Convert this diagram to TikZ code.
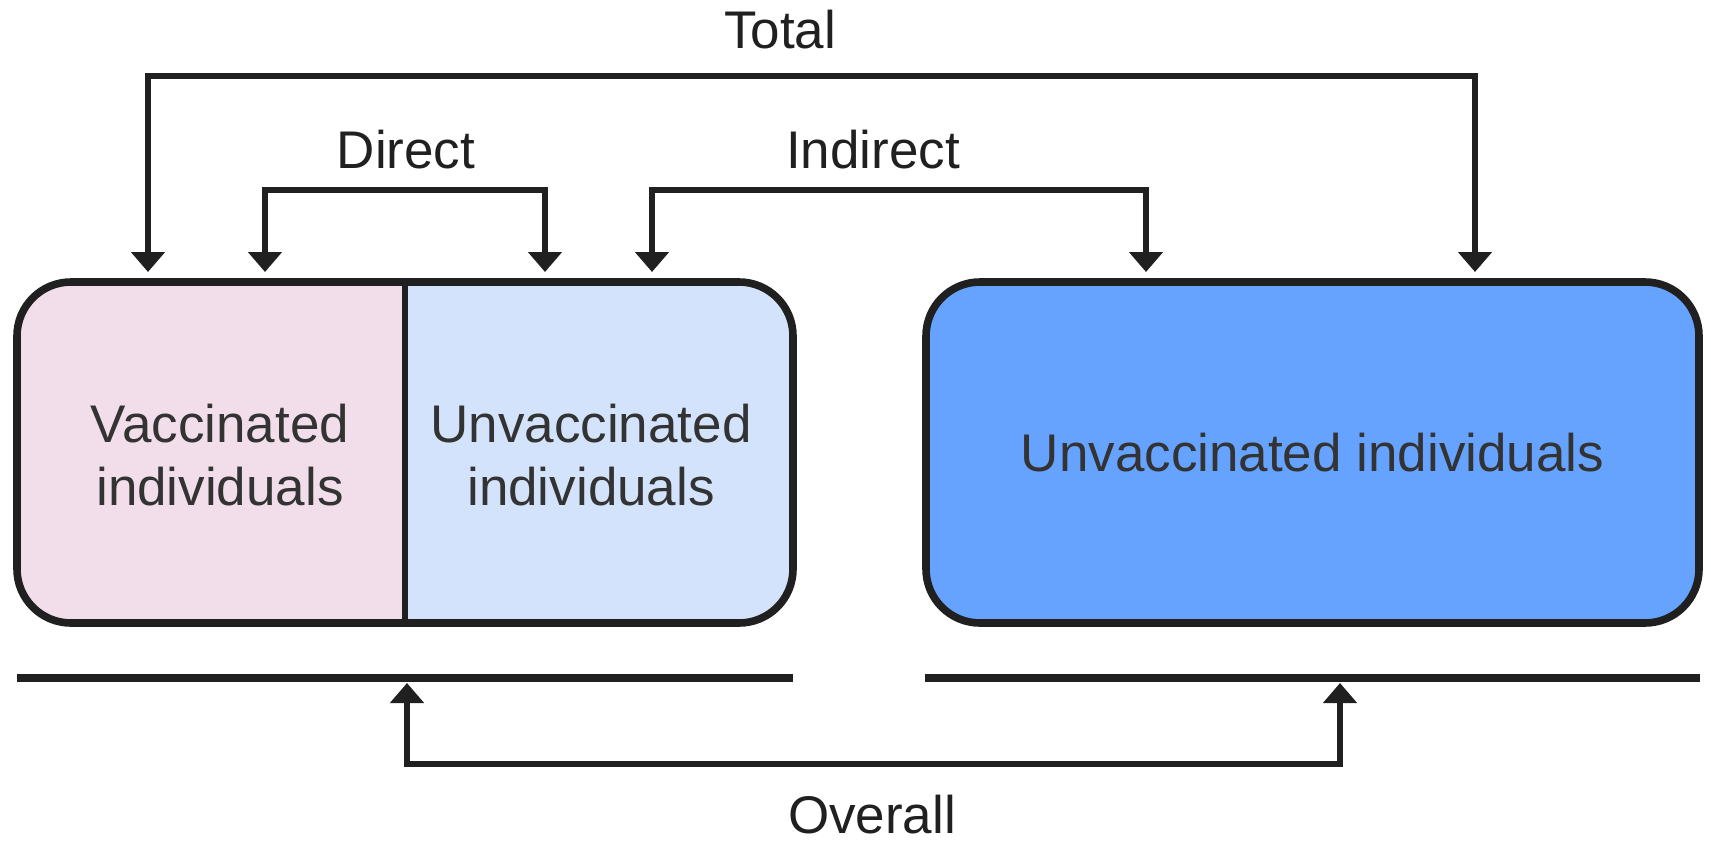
\documentclass[tikz,border=0pt]{standalone}
\usepackage{fontspec}
\setmainfont{Liberation Sans}
\usetikzlibrary{arrows.meta}
\definecolor{vacpink}{RGB}{242, 222, 234}
\definecolor{unvacblue}{RGB}{212, 227, 252}
\definecolor{poolblue}{RGB}{102, 163, 255}
\definecolor{inkgray}{RGB}{32, 32, 32}
\definecolor{textgray}{RGB}{51, 51, 51}

\begin{document}
\begin{tikzpicture}[x=0.5pt, y=-0.5pt,
        every node/.style={font=\fontsize{26.5}{31.5}\selectfont},
        group/.style={draw=inkgray, line width=3.8pt, rounded corners=27pt, inner sep=0pt,
                      minimum height=170.5pt, text=textgray},
        boxtext/.style={text=textgray, align=center, inner sep=0pt},
        effect/.style={text=inkgray, inner sep=0pt},
        link/.style={draw=inkgray, line width=3pt,
                     {Triangle[width=16.5pt, length=10pt]}-{Triangle[width=16.5pt, length=10pt]}},
        groundline/.style={draw=inkgray, line width=4pt}]
            \useasboundingbox (0, 0) rectangle (1711, 841);

            \node[group, minimum width=388pt,
                  path picture={
                      \fill[vacpink,   sharp corners] (path picture bounding box.north west) rectangle (path picture bounding box.south);
                      \fill[unvacblue, sharp corners] (path picture bounding box.north)      rectangle (path picture bounding box.south east);
                  }]                                   (mixed) at ( 405.0, 452.5) {};
            \draw[inkgray, line width=3.4pt]           (mixed.north) -- (mixed.south);
            \node[boxtext]                             (vac)   at ( 220.0, 455.0) {Vaccinated\\individuals};
            \node[boxtext]                             (unvac) at ( 591.0, 455.0) {Unvaccinated\\individuals};
            \node[group, minimum width=386.5pt, fill=poolblue]
                                                       (pool)  at (1312.5, 452.5) {Unvaccinated individuals};

            \coordinate (totL)   at ( 148, 272);
            \coordinate (totR)   at (1475, 272);
            \coordinate (totbar) at ( 780,  76);
            \coordinate (dirL)   at ( 265, 272);
            \coordinate (dirR)   at ( 545, 272);
            \coordinate (dirbar) at ( 406, 190);
            \coordinate (indL)   at ( 652, 272);
            \coordinate (indR)   at (1146, 272);
            \coordinate (indbar) at ( 873, 190);

            \draw[link] (totL) |- (totbar) -| (totR);
            \draw[link] (dirL) |- (dirbar) -| (dirR);
            \draw[link] (indL) |- (indbar) -| (indR);
            \node[effect] (total)    at ( 780,  30) {Total};
            \node[effect] (direct)   at ( 406, 150) {Direct};
            \node[effect] (indirect) at ( 873, 150) {Indirect};

            \coordinate (mixedW) at (  17, 678);
            \coordinate (mixedE) at ( 793, 678);
            \coordinate (poolW)  at ( 925, 678);
            \coordinate (poolE)  at (1700, 678);
            \draw[groundline] (mixedW) -- (mixedE);
            \draw[groundline] (poolW)  -- (poolE);

            \coordinate (ovL)    at ( 407, 683);
            \coordinate (ovR)    at (1340, 683);
            \coordinate (ovbar)  at ( 873, 764);
            \draw[link] (ovL) |- (ovbar) -| (ovR);
            \node[effect] (overall)  at ( 872, 815) {Overall};
        \end{tikzpicture}
\end{document}
